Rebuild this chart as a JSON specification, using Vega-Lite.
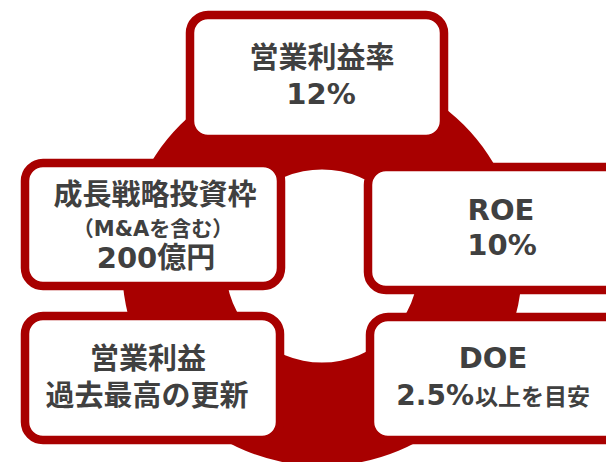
{
  "$schema": "https://vega.github.io/schema/vega-lite/v6.json",
  "width": 606,
  "height": 462,
  "padding": 0,
  "autosize": {"type": "none"},
  "background": "white",
  "config": {"view": {"stroke": null}},
  "datasets": {
    "ring": [{"cx": 322, "cy": 266, "full": 1, "ro": 200, "ri": 96.5}],
    "boxes": [
      {"name": "営業利益率", "x0": 190, "x1": 444, "y0": 15, "y1": 139},
      {"name": "成長戦略投資枠", "x0": 25, "x1": 281, "y0": 163, "y1": 286},
      {"name": "ROE", "x0": 368, "x1": 650, "y0": 167, "y1": 290},
      {"name": "営業利益", "x0": 25, "x1": 280, "y0": 316, "y1": 440},
      {"name": "DOE", "x0": 370, "x1": 650, "y0": 317, "y1": 440}
    ],
    "labels": [
      {"role": "main", "text": "営業利益率", "x": 322, "y": 58.5},
      {"role": "main", "text": "12%", "x": 321, "y": 95},
      {"role": "main", "text": "成長戦略投資枠", "x": 155, "y": 196},
      {"role": "note", "text": "（M&Aを含む）", "x": 153, "y": 230},
      {"role": "main", "text": "200億円", "x": 156, "y": 259},
      {"role": "main", "text": "ROE", "x": 501, "y": 211},
      {"role": "main", "text": "10%", "x": 502, "y": 246},
      {"role": "main", "text": "営業利益", "x": 148, "y": 360},
      {"role": "main", "text": "過去最高の更新", "x": 147, "y": 397},
      {"role": "main", "text": "DOE", "x": 493, "y": 358.5},
      {"role": "num", "text": "2.5%", "x": 474, "y": 397},
      {"role": "unit", "text": "以上を目安", "x": 475, "y": 398}
    ]
  },
  "layer": [
    {
      "data": {"name": "ring"},
      "mark": {"type": "arc", "color": "#a80000", "stroke": null},
      "encoding": {
        "x": {"field": "cx", "type": "quantitative", "scale": {"domain": [0, 606], "nice": false, "zero": false}, "axis": null},
        "y": {"field": "cy", "type": "quantitative", "scale": {"domain": [0, 462], "reverse": true, "nice": false, "zero": false}, "axis": null},
        "theta": {"field": "full", "type": "quantitative"},
        "radius": {"field": "ro", "type": "quantitative", "scale": {"type": "linear", "domain": [0, 200], "range": [0, 200], "zero": true}},
        "radius2": {"field": "ri"}
      }
    },
    {
      "data": {"name": "boxes"},
      "mark": {"type": "rect", "fill": "white", "stroke": "#a80000", "strokeWidth": 8.5, "cornerRadius": 18, "clip": true},
      "encoding": {
        "x": {"field": "x0", "type": "quantitative"},
        "x2": {"field": "x1"},
        "y": {"field": "y0", "type": "quantitative"},
        "y2": {"field": "y1"}
      }
    },
    {
      "data": {"name": "labels"},
      "transform": [{"filter": "datum.role === 'main'"}],
      "mark": {"type": "text", "font": "DejaVu Sans, Noto Sans CJK JP", "fontWeight": "bold", "fontSize": 29, "color": "#404040", "align": "center", "baseline": "middle"},
      "encoding": {
        "x": {"field": "x", "type": "quantitative"},
        "y": {"field": "y", "type": "quantitative"},
        "text": {"field": "text"}
      }
    },
    {
      "data": {"name": "labels"},
      "transform": [{"filter": "datum.role === 'note'"}],
      "mark": {"type": "text", "font": "DejaVu Sans, Noto Sans CJK JP", "fontWeight": "bold", "fontSize": 21, "color": "#404040", "align": "center", "baseline": "middle"},
      "encoding": {
        "x": {"field": "x", "type": "quantitative"},
        "y": {"field": "y", "type": "quantitative"},
        "text": {"field": "text"}
      }
    },
    {
      "data": {"name": "labels"},
      "transform": [{"filter": "datum.role === 'num'"}],
      "mark": {"type": "text", "font": "DejaVu Sans, Noto Sans CJK JP", "fontWeight": "bold", "fontSize": 28, "color": "#404040", "align": "right", "baseline": "middle"},
      "encoding": {
        "x": {"field": "x", "type": "quantitative"},
        "y": {"field": "y", "type": "quantitative"},
        "text": {"field": "text"}
      }
    },
    {
      "data": {"name": "labels"},
      "transform": [{"filter": "datum.role === 'unit'"}],
      "mark": {"type": "text", "font": "DejaVu Sans, Noto Sans CJK JP", "fontWeight": "bold", "fontSize": 23, "color": "#404040", "align": "left", "baseline": "middle"},
      "encoding": {
        "x": {"field": "x", "type": "quantitative"},
        "y": {"field": "y", "type": "quantitative"},
        "text": {"field": "text"}
      }
    }
  ]
}
